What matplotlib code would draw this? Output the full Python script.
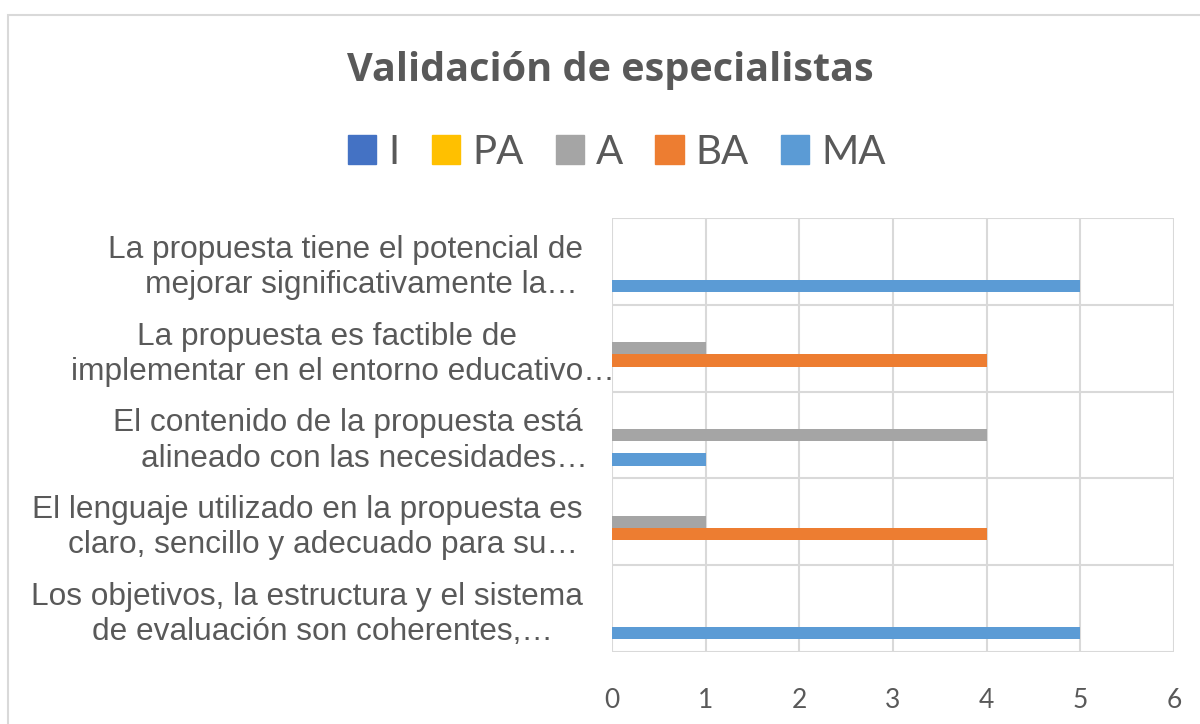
import matplotlib
matplotlib.use("Agg")
import matplotlib.pyplot as plt
import numpy as np
from matplotlib.patches import Rectangle
from matplotlib.font_manager import FontProperties

categories = [
    "Los objetivos, la estructura y el sistema\nde evaluación son coherentes,…",
    "El lenguaje utilizado en la propuesta es\nclaro, sencillo y adecuado para su…",
    "El contenido de la propuesta está\nalineado con las necesidades…",
    "La propuesta es factible de\nimplementar en el entorno educativo…",
    "La propuesta tiene el potencial de\nmejorar significativamente la…",
]
series_names = ["I", "PA", "A", "BA", "MA"]
I_vals = [0, 0, 0, 0, 0]
PA_vals = [0, 0, 0, 0, 0]
A_vals = [0, 1, 4, 1, 0]
BA_vals = [0, 4, 0, 4, 0]
MA_vals = [5, 0, 1, 0, 5]
series_values = [I_vals, PA_vals, A_vals, BA_vals, MA_vals]
colors = ["#4472C4", "#FFC000", "#A5A5A5", "#ED7D31", "#5B9BD5"]
x_ticks = [0, 1, 2, 3, 4, 5, 6]

text_color = "#595959"
grid_color = "#D9D9D9"

W, H = 1200, 724
fig = plt.figure(figsize=(W / 100, H / 100), dpi=100)
ax = fig.add_axes([612/W, 1-652/H, (1174-612)/W, (652-218)/H])

y = np.arange(len(categories))
h = 0.141
for j, (name, vals, c) in enumerate(zip(series_names, series_values, colors)):
    ax.barh(y + (2 - j) * h, vals, height=h, color=c, label=name, zorder=3)

ax.set_xlim(0, 6)
ax.set_ylim(-0.5, len(categories) - 0.5)
ax.set_xticks(x_ticks)
ax.set_xticklabels([str(t) for t in x_ticks], fontsize=19, color=text_color, family="Lato")
ax.set_yticks(y)
ax.set_yticklabels([])
ax.tick_params(axis="both", length=0)
ax.tick_params(axis="x", pad=26)

for xv in x_ticks:
    ax.axvline(xv, color=grid_color, lw=1.5, zorder=1)
for b in np.arange(-0.5, len(categories) + 0.5, 1):
    ax.axhline(b, color=grid_color, lw=1.5, zorder=1)
for s in ax.spines.values():
    s.set_visible(False)

# Category labels: each line centred on a common centre (ellipsis excluded,
# as Excel does), the block right-aligned next to the plot area.
lab_family, lab_size = "Liberation Sans", 22.8
lab_kw = dict(fontsize=lab_size, color=text_color, family=lab_family, linespacing=1.22)
fp = FontProperties(family=lab_family, size=lab_size)
renderer = fig.canvas.get_renderer()
right_px = 583.0
trans = ax.get_yaxis_transform()
_, h_lp, d_lp = renderer.get_text_width_height_descent("lp", fp, ismath=False)

def text_width(s):
    t = fig.text(0, 0, s, **lab_kw)
    w = t.get_window_extent(renderer).width
    t.remove()
    return w

def x_axes(px):
    return (px - 612.0) / (1174.0 - 612.0)

for yi, lab in zip(y, categories):
    lines = lab.split("\n")
    core = [ln.rstrip("…") for ln in lines]
    widths = [text_width(c) for c in core]
    center_px = right_px - max(widths) / 2
    probe = ax.text(x_axes(right_px), yi, "\n".join(core), ha="right",
                    va="center_baseline", transform=trans, **lab_kw)
    bb = probe.get_window_extent(renderer)
    probe.remove()
    _, h0, d0 = renderer.get_text_width_height_descent(core[0], fp, ismath=False)
    _, h1, d1 = renderer.get_text_width_height_descent(core[-1], fp, ismath=False)
    top_base = bb.y1 - (max(h0, h_lp) - max(d0, d_lp))
    bot_base = bb.y0 + max(d1, d_lp)
    n = len(lines)
    for k, (ln, w) in enumerate(zip(lines, widths)):
        base = top_base if n == 1 else top_base + (bot_base - top_base) * k / (n - 1)
        fig.text((center_px - w / 2) / W, base / H, ln, ha="left", va="baseline",
                 fontsize=lab_size, color=text_color, family=lab_family)

fig.text(610/W, 1-70/H, "Validación de especialistas", ha="center", va="center",
         fontsize=28.5, fontweight="bold", color=text_color, family="Open Sans")

handles = [Rectangle((0, 0), 1, 1, color=c) for c in colors]
fig.legend(handles, series_names, loc="center", bbox_to_anchor=(617/W, 1-152/H),
           ncol=5, frameon=False, handlelength=0.7, handleheight=0.7,
           handletextpad=0.3, columnspacing=0.8, labelcolor=text_color,
           prop={"family": "Lato", "size": 29, "weight": "normal"})

fig.patches.append(Rectangle((8/W, -0.01), 1.1, 1 - 15/H + 0.01,
                             transform=fig.transFigure, fill=False,
                             edgecolor="#D9D9D9", lw=1.5))

fig.savefig("out.png", dpi=100)
